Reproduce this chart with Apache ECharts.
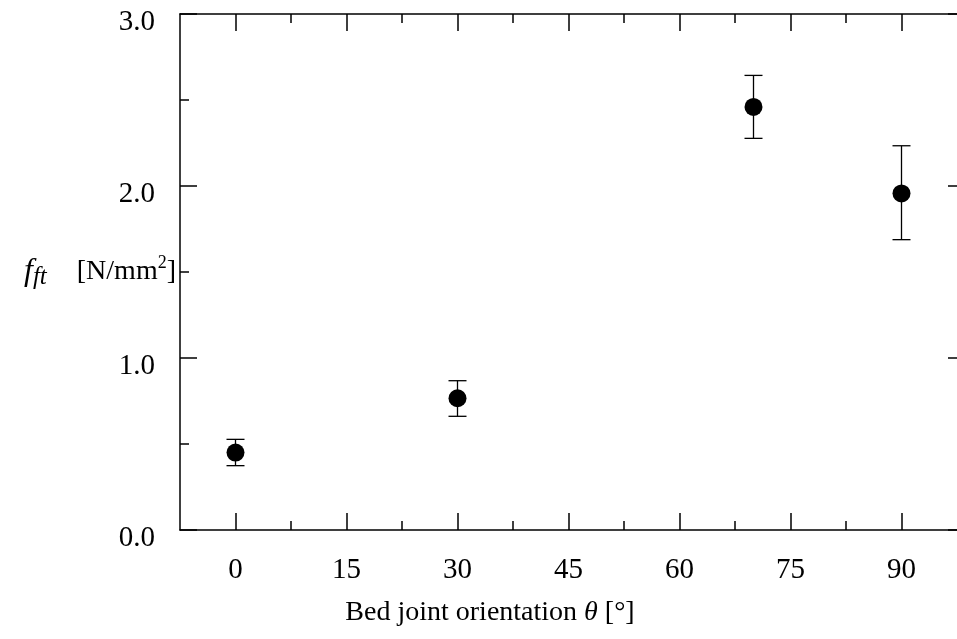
<!DOCTYPE html>
<html>
<head>
<meta charset="utf-8">
<script src="https://cdn.jsdelivr.net/npm/echarts@6/dist/echarts.min.js"></script>
<style>
  html, body { margin: 0; padding: 0; background: #fff; }
  #chart { width: 957px; height: 639px; }
</style>
</head>
<body>
<div id="chart"></div>
<script>
// bed joint orientation (deg) and tensile strength (N/mm2)
var angles = [0, 30, 70, 90];
var strength = [0.45, 0.766, 2.46, 1.957];
var errLow = [0.374, 0.661, 2.277, 1.688];
var errHigh = [0.527, 0.868, 2.643, 2.234];

var xMajor = [0, 15, 30, 45, 60, 75, 90];
var xMinor = [7.5, 22.5, 37.5, 52.5, 67.5, 82.5];
var yMajor = [0, 1, 2, 3];
var yMinor = [0.5, 1.5, 2.5];

var font = 'Liberation Serif';
var lineStyle = {color: '#000', width: 1.5};

var points = angles.map(function (a, i) { return [a, strength[i]]; });
var bars = angles.map(function (a, i) { return [a, errLow[i], errHigh[i]]; });

function xAxisDef(pos, ticks, len, showLine, showLabel) {
    return {
        type: 'value', min: -7.5, max: 97.5, position: pos,
        splitLine: {show: false},
        axisLine: {show: showLine, onZero: false, lineStyle: lineStyle},
        axisTick: {show: true, inside: true, length: len, customValues: ticks, lineStyle: lineStyle},
        axisLabel: {
            show: showLabel, customValues: ticks, margin: 26,
            fontFamily: font, fontSize: 29, color: '#000'
        }
    };
}

function yAxisDef(pos, ticks, len, showLine, showLabel) {
    return {
        type: 'value', min: 0, max: 3, position: pos,
        splitLine: {show: false},
        axisLine: {show: showLine, onZero: false, lineStyle: lineStyle},
        axisTick: {show: true, inside: true, length: len, customValues: ticks, lineStyle: lineStyle},
        axisLabel: {
            show: showLabel, customValues: ticks, margin: 25,
            fontFamily: font, fontSize: 29, color: '#000',
            verticalAlign: 'top', lineHeight: 16,
            formatter: function (v) { return v.toFixed(1); }
        }
    };
}

var option = {
    animation: false,
    backgroundColor: '#fff',
    grid: {left: 180, top: 14, width: 778, height: 516, containLabel: false},
    xAxis: [
        xAxisDef('bottom', xMajor, 17, true, true),
        xAxisDef('bottom', xMinor, 9, false, false),
        xAxisDef('top', xMajor, 17, true, false),
        xAxisDef('top', xMinor, 9, false, false)
    ],
    yAxis: [
        yAxisDef('left', yMajor, 17, true, true),
        yAxisDef('left', yMinor, 9, false, false),
        yAxisDef('right', yMajor, 9, false, false)
    ],
    graphic: [
        {
            type: 'text', x: 176, y: 272,
            style: {
                text: '{f|f}{s|ft}[N/mm{p|2}]',
                align: 'right', verticalAlign: 'middle',
                fontFamily: font, fontSize: 28, fill: '#000',
                rich: {
                    f: {fontFamily: font, fontSize: 32, fontStyle: 'italic', lineHeight: 36, verticalAlign: 'middle'},
                    s: {fontFamily: font, fontSize: 25, fontStyle: 'italic', lineHeight: 22, verticalAlign: 'bottom', padding: [0, 30, 0, 0]},
                    p: {fontFamily: font, fontSize: 18, lineHeight: 18, verticalAlign: 'top'}
                }
            }
        },
        {
            type: 'text', x: 490, y: 613,
            style: {
                text: 'Bed joint orientation {t|θ} [°]',
                align: 'center', verticalAlign: 'middle',
                fontFamily: font, fontSize: 28, fill: '#000',
                rich: {
                    t: {fontFamily: font, fontSize: 28, fontStyle: 'italic'}
                }
            }
        }
    ],
    series: [
        {
            type: 'custom',
            xAxisIndex: 0, yAxisIndex: 0,
            data: bars,
            z: 2,
            renderItem: function (params, api) {
                var lo = api.coord([api.value(0), api.value(1)]);
                var hi = api.coord([api.value(0), api.value(2)]);
                var w = 9;
                var st = {stroke: '#000', lineWidth: 1.3};
                return {
                    type: 'group',
                    children: [
                        {type: 'line', shape: {x1: lo[0], y1: lo[1], x2: hi[0], y2: hi[1]}, style: st},
                        {type: 'line', shape: {x1: lo[0] - w, y1: lo[1], x2: lo[0] + w, y2: lo[1]}, style: st},
                        {type: 'line', shape: {x1: hi[0] - w, y1: hi[1], x2: hi[0] + w, y2: hi[1]}, style: st}
                    ]
                };
            }
        },
        {
            type: 'scatter',
            xAxisIndex: 0, yAxisIndex: 0,
            data: points,
            symbol: 'circle',
            symbolSize: 18,
            itemStyle: {color: '#000', opacity: 1},
            z: 3
        }
    ]
};

var chart = echarts.init(document.getElementById('chart'));
chart.setOption(option);
</script>
</body>
</html>
